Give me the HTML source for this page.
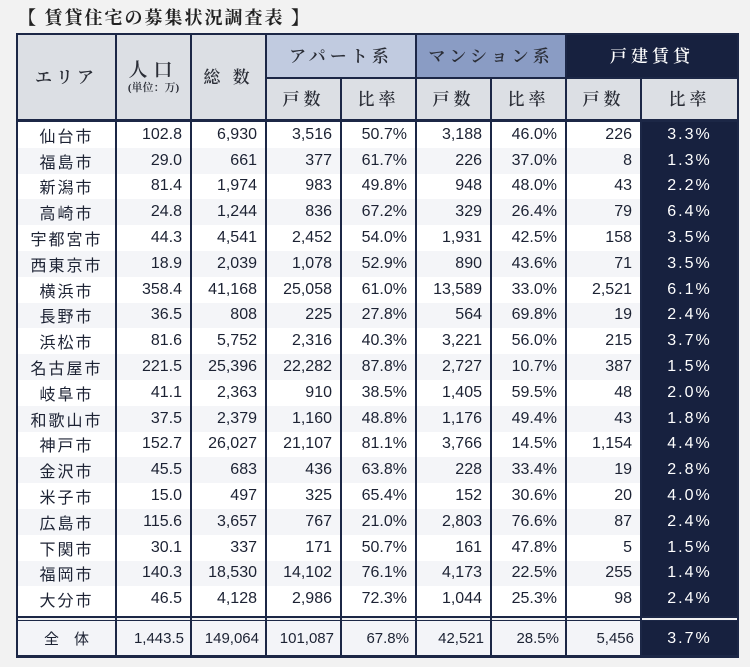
<!DOCTYPE html>
<html><head><meta charset="utf-8">
<style>
body{margin:0;width:750px;height:667px;background:#f2f2f2;font-family:"Liberation Sans","Noto Sans CJK JP",sans-serif;overflow:hidden;position:relative}
.c{position:absolute;box-sizing:border-box;display:flex;align-items:center;color:#1c2233;line-height:1}
.title{position:absolute;left:18px;top:4px;font-family:"Liberation Serif","Noto Serif CJK SC",serif;font-size:18px;font-weight:bold;color:#222;letter-spacing:2px}
.hd{justify-content:center;font-family:"Liberation Serif","Noto Serif CJK SC",serif;font-size:17px;font-weight:600;letter-spacing:4px;color:#2a2d36}
.v{position:absolute;background:#1c2746}
.h{position:absolute;background:#1c2746}
</style></head><body>
<div class="title">【 賃貸住宅の募集状況調査表 】</div>
<div id="t"></div>
<script>
const cities=["仙台市","福島市","新潟市","高崎市","宇都宮市","西東京市","横浜市","長野市","浜松市","名古屋市","岐阜市","和歌山市","神戸市","金沢市","米子市","広島市","下関市","福岡市","大分市"];
const population=["102.8","29.0","81.4","24.8","44.3","18.9","358.4","36.5","81.6","221.5","41.1","37.5","152.7","45.5","15.0","115.6","30.1","140.3","46.5"];
const totals=["6,930","661","1,974","1,244","4,541","2,039","41,168","808","5,752","25,396","2,363","2,379","26,027","683","497","3,657","337","18,530","4,128"];
const apartCount=["3,516","377","983","836","2,452","1,078","25,058","225","2,316","22,282","910","1,160","21,107","436","325","767","171","14,102","2,986"];
const apartRate=["50.7%","61.7%","49.8%","67.2%","54.0%","52.9%","61.0%","27.8%","40.3%","87.8%","38.5%","48.8%","81.1%","63.8%","65.4%","21.0%","50.7%","76.1%","72.3%"];
const mansionCount=["3,188","226","948","329","1,931","890","13,589","564","3,221","2,727","1,405","1,176","3,766","228","152","2,803","161","4,173","1,044"];
const mansionRate=["46.0%","37.0%","48.0%","26.4%","42.5%","43.6%","33.0%","69.8%","56.0%","10.7%","59.5%","49.4%","14.5%","33.4%","30.6%","76.6%","47.8%","22.5%","25.3%"];
const houseCount=["226","8","43","79","158","71","2,521","19","215","387","48","43","1,154","19","20","87","5","255","98"];
const houseRate=["3.3%","1.3%","2.2%","6.4%","3.5%","3.5%","6.1%","2.4%","3.7%","1.5%","2.0%","1.8%","4.4%","2.8%","4.0%","2.4%","1.5%","1.4%","2.4%"];
const totalRow=["全　体","1,443.5","149,064","101,087","67.8%","42,521","28.5%","5,456","3.7%"];

const X=[17,116,191,266,341,416,491,566,641,738];
const t=document.getElementById('t');
function box(x,y,w,h,txt,cls,bg,name,extra){
  const d=document.createElement('div');
  d.className='c '+(cls||'');
  d.style.cssText=`left:${x}px;top:${y}px;width:${w}px;height:${h}px;background:${bg||'transparent'};`+(extra||'');
  d.textContent=txt;
  
  
  t.appendChild(d);return d;
}
box(17,34,X[4]-17,86,'','', '#dcdfe4','header-bg');
box(266,34,150,44,'アパート系','hd','#c1cbe0','header-apart');
box(416,34,150,44,'マンション系','hd','#8a9cc4','header-mansion');
box(566,34,172,44,'戸建賃貸','hd','#17213f','header-house','color:#fff');
box(17,34,99,86,'エリア','hd','transparent','header-area');
const pp=box(116,34,75,86,'','hd','transparent','header-population','flex-direction:column;letter-spacing:6px');
pp.innerHTML='<div style="font-size:19px">人口</div><div style="font-size:11px;letter-spacing:0;margin-top:3px">(単位：万)</div>';
box(191,34,75,86,'総 数','hd','transparent','header-total');
const subs=['戸数','比率','戸数','比率','戸数','比率'];
for(let i=0;i<6;i++){box(X[3+i],78,X[4+i]-X[3+i],42,subs[i],'hd','#dcdfe4','subheader-'+i);}
const top0=121,rh=25.8;
box(17,top0,721,497,'','','#fff','body-bg');
for(let r=0;r<cities.length;r++){
  const y=top0+1+r*rh;
  if(r%2==1) box(17,y,X[8]-17,rh,'','','#f4f5f8','row-stripe');
  const vals=[cities[r],population[r],totals[r],apartCount[r],apartRate[r],mansionCount[r],mansionRate[r],houseCount[r]];
  vals.forEach((v,i)=>{
    box(X[i],y,X[i+1]-X[i],rh,v,'',null,'cell-'+i,(i==0?'justify-content:center;letter-spacing:2px;font-family:"Noto Sans CJK JP",sans-serif;':'justify-content:flex-end;padding-right:9px;')+'font-size:16px');
  });
}
box(641,top0,97,497,'','','#17213f','house-rate-bg');
for(let r=0;r<cities.length;r++){
  box(641,top0+1+r*rh,97,rh,houseRate[r],'',null,'house-rate','justify-content:center;color:#fff;font-size:16px;letter-spacing:2px');
}
box(17,620,721,37,'','','#f3f4f8','total-bg');
box(641,620,97,37,'','','#17213f','total-house-bg');
totalRow.forEach((v,i)=>{
  box(X[i],620,X[i+1]-X[i],37,v,'',null,'total-cell-'+i,(i==0||i==8?'justify-content:center;':'justify-content:flex-end;padding-right:7px;')+'font-size:15px;'+(i==0?'font-family:"Noto Sans CJK JP",sans-serif;':'')+(i==8?'color:#fff;letter-spacing:2px;font-size:16px':''));
});
function line(cls,x,y,w,h,n){const d=document.createElement('div');d.className=cls;d.style.cssText=`left:${x}px;top:${y}px;width:${w}px;height:${h}px`;t.appendChild(d);}
line('h',16,33,723,2,'border-top');
line('h',16,655,723,3,'border-bottom');
line('h',16,119,723,3,'header-bottom-line');
line('h',266,77,472,2,'header-mid-line');
line('h',16,616,723,2,'total-line-1');
line('h',16,620,723,1,'total-line-2');
X.forEach((x,i)=>{
  let y=33,h=625;
  if(i==4||i==6||i==8){y=78;h=658-78;}
  line('v',x-1,y,2,h,'col-line-'+i);
});
line('v',X[5]-1,33,2,45,'group-line-1');
line('v',X[7]-1,33,2,45,'group-line-2');
</script>
</body></html>
